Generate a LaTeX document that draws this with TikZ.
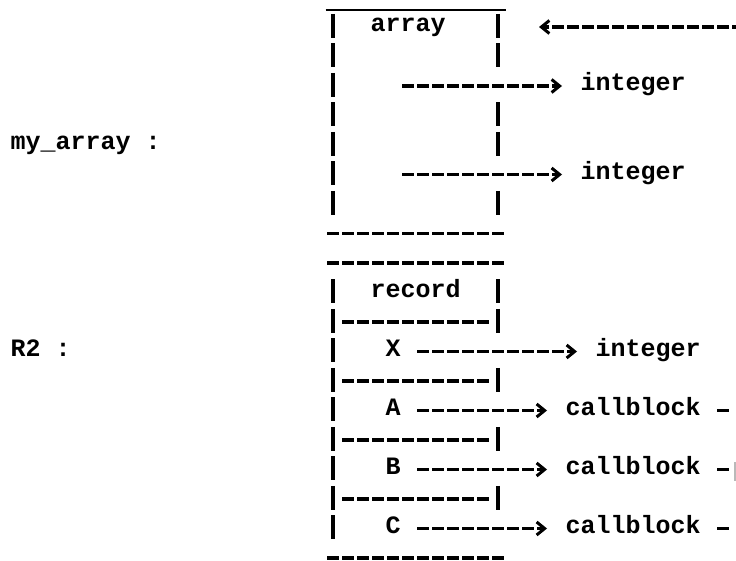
\documentclass[tikz,border=0pt]{standalone}
\usepackage{fontspec}
\setmainfont{Liberation Mono}
\usetikzlibrary{arrows.meta}
\tikzset{
  ascii/.style={font=\fontsize{25}{30}\selectfont\bfseries, inner sep=0pt, anchor=mid west, yshift=-2pt},
  barline/.style={line width=3.2pt, dash pattern=on 24pt off 5.5pt, yshift=1pt},
  dashrule/.style={line width=3.3pt, dash pattern=on 12pt off 3pt},
  chev/.style={dashrule, -{Straight Barb[length=8pt,width=13pt,line width=3pt]}},
  faint/.style={gray!55, line width=2pt}
}
\begin{document}
\begin{tikzpicture}
\useasboundingbox (0,0) rectangle (736pt,-561pt);
% character grid: one unit = one typewriter cell (15pt wide, 29.5pt line)
\begin{scope}[shift={(333pt,-27pt)}, x=15pt, y=-29.5pt]

  % ---- labels on the left
  \node[ascii] (myarr) at (-21.5,4)  {my\_array :};
  \node[ascii] (rtwo)  at (-21.5,11) {R2 :};

  % ---- array box
  \draw[line width=2.8pt] (-0.5,-0.576) -- (11.5,-0.576);
  \node[ascii] (arr) at (2.5,0) {array};
  \draw[barline] (0,-0.407) -- (0,6.407);
  \draw[barline] (11,-0.407) -- (11,1.407);
  \draw[barline] (11,2.593) -- (11,4.407);
  \draw[barline] (11,5.593) -- (11,6.407);
  \draw[dashrule] (-0.4,7) -- (11.4,7);

  % incoming pointer
  \coordinate (inR) at (27.4,0);
  \coordinate (inL) at (13.7333,0);
  \draw[chev] (inR) -- (inL);

  % element pointers
  \node[ascii] (intA) at (16.5,2) {integer};
  \node[ascii] (intB) at (16.5,5) {integer};
  \coordinate (eA) at (4.6,2);
  \coordinate (eB) at (4.6,5);
  \draw[chev, shorten >=18.5pt] (eA) -- ([yshift=2pt]intA.mid west);
  \draw[chev, shorten >=18.5pt] (eB) -- ([yshift=2pt]intB.mid west);

  % ---- record box
  \draw[dashrule] (-0.4,8) -- (11.4,8);
  \node[ascii] (rec) at (2.5,9) {record};
  \draw[barline] (0,8.593) -- (0,17.407);
  \draw[barline] (11,8.593) -- (11,10.407);
  \draw[barline] (11,11.593) -- (11,12.407);
  \draw[barline] (11,13.593) -- (11,14.407);
  \draw[barline] (11,15.593) -- (11,16.407);
  \foreach \r in {10,12,14,16}
    \draw[dashrule] (0.6,\r) -- (10.4,\r);
  \draw[dashrule] (-0.4,18) -- (11.4,18);

  % fields
  \node[ascii] (fX) at (3.5,11) {X};
  \node[ascii] (fA) at (3.5,13) {A};
  \node[ascii] (fB) at (3.5,15) {B};
  \node[ascii] (fC) at (3.5,17) {C};

  \node[ascii] (intC) at (17.5,11) {integer};
  \node[ascii] (cbA)  at (15.5,13) {callblock};
  \node[ascii] (cbB)  at (15.5,15) {callblock};
  \node[ascii] (cbC)  at (15.5,17) {callblock};

  \tikzset{field arrow/.style={chev, shorten <=16.5pt, shorten >=18.5pt}}
  \draw[field arrow] ([yshift=2pt]fX.mid east) -- ([yshift=2pt]intC.mid west);
  \draw[field arrow] ([yshift=2pt]fA.mid east) -- ([yshift=2pt]cbA.mid west);
  \draw[field arrow] ([yshift=2pt]fB.mid east) -- ([yshift=2pt]cbB.mid west);
  \draw[field arrow] ([yshift=2pt]fC.mid east) -- ([yshift=2pt]cbC.mid west);

  % outgoing stubs after each callblock
  \coordinate (oA) at (26.4,13);
  \coordinate (oB) at (26.4,15);
  \coordinate (oC) at (26.4,17);
  \draw[dashrule, shorten <=16.5pt] ([yshift=2pt]cbA.mid east) -- (oA);
  \draw[dashrule, shorten <=16.5pt] ([yshift=2pt]cbB.mid east) -- (oB);
  \draw[dashrule, shorten <=16.5pt] ([yshift=2pt]cbC.mid east) -- (oC);
  \coordinate (eT) at (26.8,14.75);
  \coordinate (eU) at (26.8,15.4);
  \draw[faint] (eT) -- (eU);
\end{scope}
\end{tikzpicture}
\end{document}
